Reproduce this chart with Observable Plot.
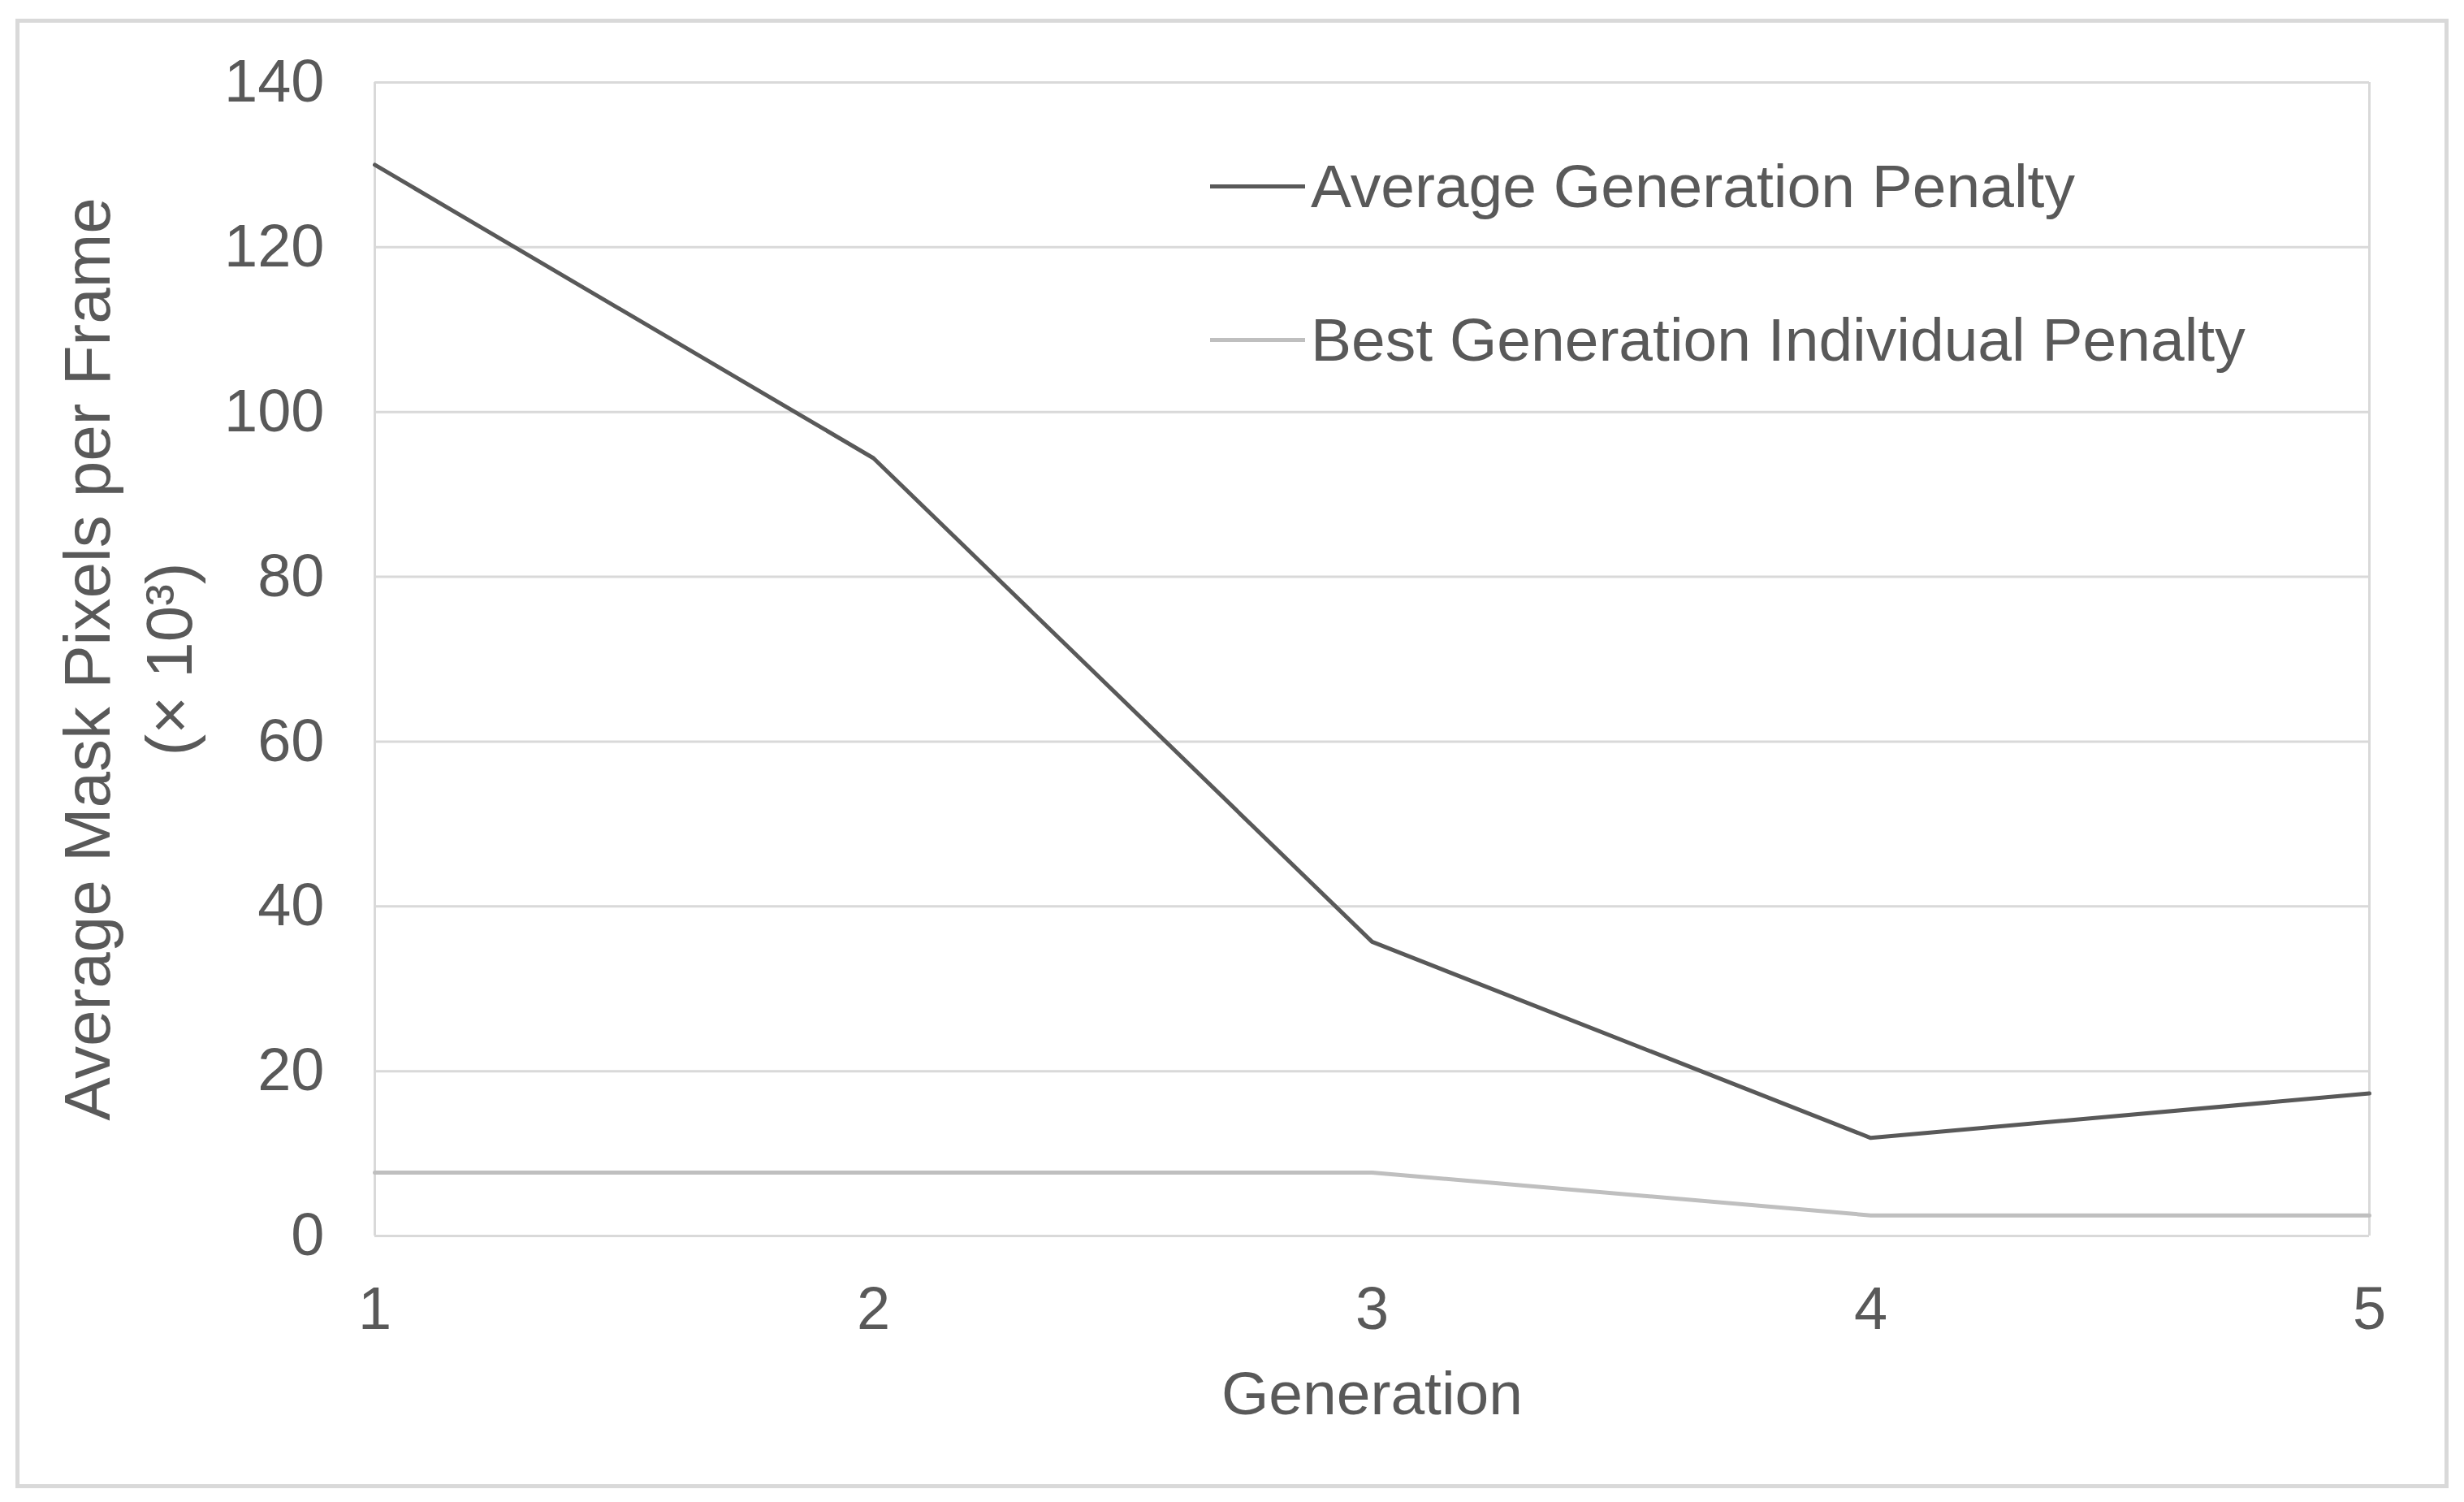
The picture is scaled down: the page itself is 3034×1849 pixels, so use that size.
<!DOCTYPE html>
<html><head><meta charset="utf-8">
<script src="https://cdn.jsdelivr.net/npm/d3@7"></script>
<script src="https://cdn.jsdelivr.net/npm/@observablehq/plot@0.6"></script>
<style>
html,body{margin:0;padding:0;background:#fff;}
#wrap{position:relative;width:3034px;height:1849px;font-family:"Liberation Sans",Arial,sans-serif;color:#595959;overflow:hidden;}
#border{position:absolute;left:19px;top:23px;width:2996px;height:1809px;border:5px solid #d9d9d9;box-sizing:border-box;}
#chart{position:absolute;left:0;top:0;}
.leg{position:absolute;left:1490px;display:flex;align-items:center;font-size:75px;height:100px;white-space:nowrap;}
.leg .sw{width:117px;height:5px;margin-right:7px;}
</style>
</head><body>
<div id="wrap"><div id="border"></div><div id="chart"></div><div id="legend"></div></div>
<script>
const generations = [1, 2, 3, 4, 5];
const avgPenalty = [130, 94.4, 35.7, 11.9, 17.3];
const bestPenalty = [7.7, 7.7, 7.7, 2.5, 2.5];
const seriesNames = ["Average Generation Penalty", "Best Generation Individual Penalty"];
const seriesColors = ["#595959", "#bfbfbf"];
const yTicks = [0, 20, 40, 60, 80, 100, 120, 140];
const xTicks = [1, 2, 3, 4, 5];
const yLabel = "Average Mask Pixels per Frame\n(× 10³)";
const xLabel = "Generation";

const data = generations.flatMap((g, i) => [
  {g, v: avgPenalty[i], s: seriesNames[0]},
  {g, v: bestPenalty[i], s: seriesNames[1]}
]);

const font = '"Liberation Sans", Arial, sans-serif';
const chart = Plot.plot({
  width: 3034, height: 1849,
  marginLeft: 461, marginRight: 117, marginTop: 101, marginBottom: 328,
  style: {fontFamily: font, fontSize: "74px", color: "#595959", background: "transparent"},
  x: {domain: [1, 5]},
  y: {domain: [0, 140]},
  color: {domain: seriesNames, range: seriesColors},
  marks: [
    Plot.gridY(yTicks, {stroke: "#d9d9d9", strokeOpacity: 1, strokeWidth: 3}),
    Plot.ruleX([1, 5], {stroke: "#d9d9d9", strokeOpacity: 1, strokeWidth: 3}),
    Plot.axisY(yTicks, {tickSize: 0, tickPadding: 62, fontSize: 74, fill: "#595959", label: null, tickFormat: d => String(d)}),
    Plot.axisX(xTicks, {tickSize: 0, tickPadding: 62, fontSize: 74, fill: "#595959", label: null, tickFormat: d => String(d)}),
    Plot.line(data, {x: "g", y: "v", z: "s", stroke: "s", strokeWidth: 5}),
    Plot.text([yLabel], {text: d => d, frameAnchor: "left", textAnchor: "middle", lineAnchor: "middle", rotate: -90, dx: -308, fontSize: 80, lineHeight: 1.26, fill: "#595959"}),
    Plot.text([xLabel], {text: d => d, frameAnchor: "bottom", dy: 219, fontSize: 75, fill: "#595959"})
  ]
});
document.getElementById("chart").appendChild(chart);

const legend = document.getElementById("legend");
const legTops = [179, 368];
seriesNames.forEach((name, i) => {
  const item = document.createElement("div");
  item.className = "leg";
  item.style.top = legTops[i] + "px";
  const sw = document.createElement("span");
  sw.className = "sw";
  sw.style.background = seriesColors[i];
  const t = document.createElement("span");
  t.textContent = name;
  item.appendChild(sw);
  item.appendChild(t);
  legend.appendChild(item);
});
</script>
</body></html>
